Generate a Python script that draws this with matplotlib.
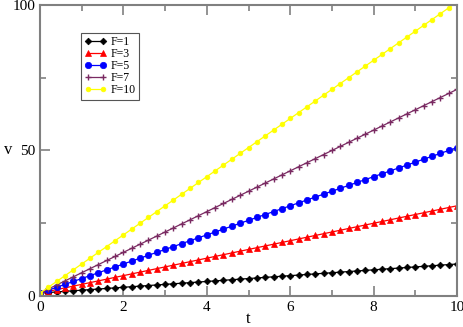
import matplotlib.pyplot as plt
from matplotlib.ticker import MultipleLocator

plt.rcParams['font.family'] = ['Liberation Serif', 'DejaVu Serif']

t = [0.0, 0.2, 0.4, 0.6, 0.8, 1.0, 1.2, 1.4, 1.6, 1.8,
     2.0, 2.2, 2.4, 2.6, 2.8, 3.0, 3.2, 3.4, 3.6, 3.8,
     4.0, 4.2, 4.4, 4.6, 4.8, 5.0, 5.2, 5.4, 5.6, 5.8,
     6.0, 6.2, 6.4, 6.6, 6.8, 7.0, 7.2, 7.4, 7.6, 7.8,
     8.0, 8.2, 8.4, 8.6, 8.8, 9.0, 9.2, 9.4, 9.6, 9.8, 10.0]

v_f1 = [1.0, 1.2, 1.4, 1.6, 1.8, 2.0, 2.2, 2.4, 2.6, 2.8,
        3.0, 3.2, 3.4, 3.6, 3.8, 4.0, 4.2, 4.4, 4.6, 4.8,
        5.0, 5.2, 5.4, 5.6, 5.8, 6.0, 6.2, 6.4, 6.6, 6.8,
        7.0, 7.2, 7.4, 7.6, 7.8, 8.0, 8.2, 8.4, 8.6, 8.8,
        9.0, 9.2, 9.4, 9.6, 9.8, 10.0, 10.2, 10.4, 10.6, 10.8, 11.0]

v_f3 = [1.0, 1.6, 2.2, 2.8, 3.4, 4.0, 4.6, 5.2, 5.8, 6.4,
        7.0, 7.6, 8.2, 8.8, 9.4, 10.0, 10.6, 11.2, 11.8, 12.4,
        13.0, 13.6, 14.2, 14.8, 15.4, 16.0, 16.6, 17.2, 17.8, 18.4,
        19.0, 19.6, 20.2, 20.8, 21.4, 22.0, 22.6, 23.2, 23.8, 24.4,
        25.0, 25.6, 26.2, 26.8, 27.4, 28.0, 28.6, 29.2, 29.8, 30.4, 31.0]

v_f5 = [1, 2, 3, 4, 5, 6, 7, 8, 9, 10,
        11, 12, 13, 14, 15, 16, 17, 18, 19, 20,
        21, 22, 23, 24, 25, 26, 27, 28, 29, 30,
        31, 32, 33, 34, 35, 36, 37, 38, 39, 40,
        41, 42, 43, 44, 45, 46, 47, 48, 49, 50, 51]

v_f7 = [1.0, 2.4, 3.8, 5.2, 6.6, 8.0, 9.4, 10.8, 12.2, 13.6,
        15.0, 16.4, 17.8, 19.2, 20.6, 22.0, 23.4, 24.8, 26.2, 27.6,
        29.0, 30.4, 31.8, 33.2, 34.6, 36.0, 37.4, 38.8, 40.2, 41.6,
        43.0, 44.4, 45.8, 47.2, 48.6, 50.0, 51.4, 52.8, 54.2, 55.6,
        57.0, 58.4, 59.8, 61.2, 62.6, 64.0, 65.4, 66.8, 68.2, 69.6, 71.0]

v_f10 = [1, 3, 5, 7, 9, 11, 13, 15, 17, 19,
         21, 23, 25, 27, 29, 31, 33, 35, 37, 39,
         41, 43, 45, 47, 49, 51, 53, 55, 57, 59,
         61, 63, 65, 67, 69, 71, 73, 75, 77, 79,
         81, 83, 85, 87, 89, 91, 93, 95, 97, 99, 101]

labels = ['F=1', 'F=3', 'F=5', 'F=7', 'F=10']
colors = ['black', 'red', 'blue', '#7a2a62', 'yellow']
markers = ['D', '^', 'o', '+', 'o']
sizes = [3.4, 4.3, 4.6, 5, 3.4]

fig = plt.figure(figsize=(4.64, 3.27), dpi=100)
ax = fig.add_axes([0.0862, 0.0948, 0.8988, 0.8900])

series = [v_f1, v_f3, v_f5, v_f7, v_f10]
for v, lab, c, m, s in zip(series, labels, colors, markers, sizes):
    ax.plot(t, v, color=c, marker=m, markersize=s, linewidth=0.9,
            markeredgewidth=1.0 if m == '+' else 0.5, label=lab)

ax.set_xlim(0, 10)
ax.set_ylim(0, 100)
ax.xaxis.set_major_locator(MultipleLocator(2))
ax.xaxis.set_minor_locator(MultipleLocator(1))
ax.yaxis.set_major_locator(MultipleLocator(50))
ax.yaxis.set_minor_locator(MultipleLocator(25))

for sp in ax.spines.values():
    sp.set_color('#808080')
    sp.set_linewidth(1.5)
ax.tick_params(which='both', direction='in', top=True, right=True,
               color='#808080', width=1.2, labelsize=11)
ax.tick_params(which='major', length=7)
ax.tick_params(which='minor', length=4)

ax.set_xlabel('t', fontsize=12)
ax.set_ylabel('v', fontsize=12, rotation=0, ha='center', va='center')
ax.xaxis.set_label_coords(0.5, -0.05)
ax.yaxis.set_label_coords(-0.077, 0.5)

leg = ax.legend(loc='upper left', bbox_to_anchor=(0.098, 0.904), numpoints=2,
                fontsize=8.5, frameon=True, fancybox=False, framealpha=1,
                handlelength=1.9, handletextpad=0.3, labelspacing=0.0,
                borderpad=0.3, borderaxespad=0)
leg.get_frame().set_edgecolor('#555555')
leg.get_frame().set_linewidth(0.8)

fig.savefig('out.png', dpi=100)
